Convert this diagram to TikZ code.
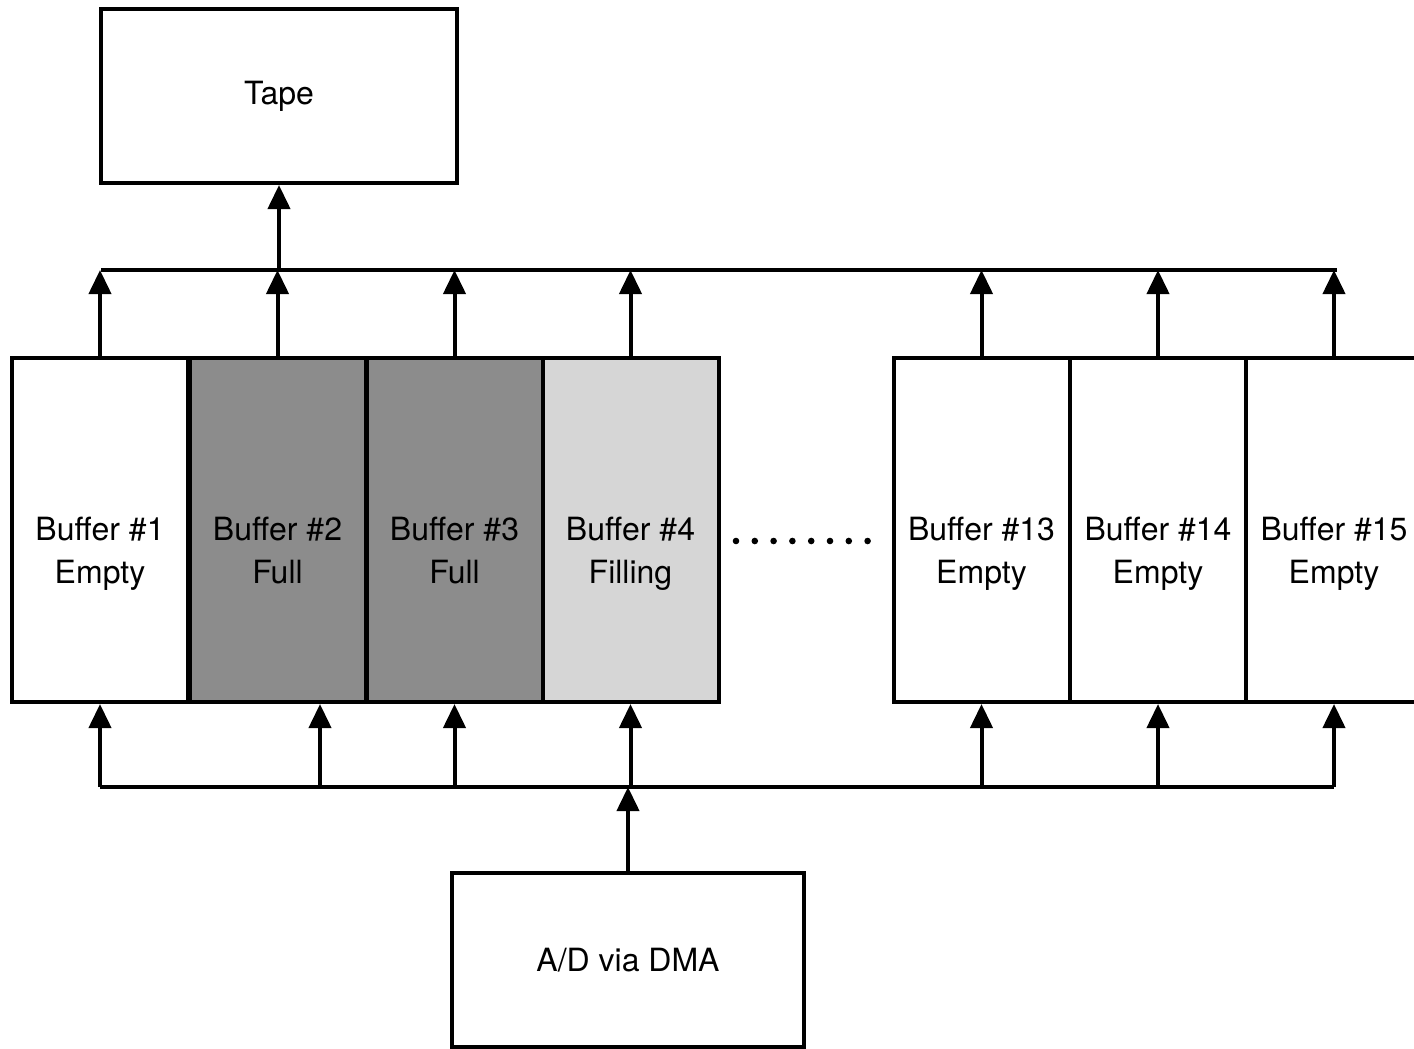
\documentclass[tikz,border=0pt]{standalone}
\usepackage{fontspec}
\setmainfont{TeX Gyre Heros}
\usetikzlibrary{arrows.meta}

\tikzset{
  box/.style={draw,line width=2pt,minimum width=178pt,minimum height=87pt,inner sep=0pt},
  buf/.style={draw,line width=2pt,minimum width=88pt,minimum height=172pt,inner sep=0pt},
  full/.style={buf,fill=black!45},
  filling/.style={buf,fill=black!16},
  lbl/.style={align=center,text height=12pt,text depth=4pt,font=\fontsize{16}{21.5}\selectfont},
  arr/.style={line width=2pt,-{Triangle[width=11pt,length=12pt]}},
  bus/.style={line width=2pt}
}

\begin{document}
\begin{tikzpicture}[x=0.5pt,y=-0.5pt]
\useasboundingbox (0,0) rectangle (1414,1049);

% boxes at the ends
\node[box,font=\fontsize{16}{21.5}\selectfont] (tape) at (279,96) {Tape};
\node[box,minimum width=176pt,font=\fontsize{16}{21.5}\selectfont] (ad) at (628,960) {A/D via DMA};

% buffers
\node[buf] (b1) at (100,530) {};
\node[full] (b2) at (277.5,530) {};
\node[full] (b3) at (454.5,530) {};
\node[filling] (b4) at (630.5,530) {};
\node[buf] (b13) at (981.5,530) {};
\node[buf] (b14) at (1158,530) {};
\node[buf] (b15) at (1334,530) {};

\node[lbl] (t1) at (100,575) {Buffer \#1\\Empty};
\node[lbl] (t2) at (277.5,575) {Buffer \#2\\Full};
\node[lbl] (t3) at (454.5,575) {Buffer \#3\\Full};
\node[lbl] (t4) at (630.5,575) {Buffer \#4\\Filling};
\node[lbl] (t13) at (981.5,575) {Buffer \#13\\Empty};
\node[lbl] (t14) at (1158,575) {Buffer \#14\\Empty};
\node[lbl] (t15) at (1334,575) {Buffer \#15\\Empty};

% dots between the two groups
\foreach \i in {0,...,7}
  \fill (736+\i*18.8,541) circle (3.3);

% top bus
\coordinate (tl) at (101,270);
\coordinate (tr) at (1337,270);
\draw[bus] (tl) -- (tr);
\draw[arr] (tape.south |- tl) -- (tape.south);
\draw[arr] (b1.north) -- (b1.north |- tl);
\draw[arr] (b2.north) -- (b2.north |- tl);
\draw[arr] (b3.north) -- (b3.north |- tl);
\draw[arr] (b4.north) -- (b4.north |- tl);
\draw[arr] (b13.north) -- (b13.north |- tl);
\draw[arr] (b14.north) -- (b14.north |- tl);
\draw[arr] (b15.north) -- (b15.north |- tl);

% bottom bus
\coordinate (bl) at (100,787);
\coordinate (br) at (1334,787);
\coordinate (b2in) at (320,787);
\draw[bus] (bl) -- (br);
\draw[arr] (ad.north) -- (ad.north |- bl);
\draw[arr] (bl) -- (bl |- b1.south);
\draw[arr] (b2in) -- (b2in |- b2.south);
\draw[arr] (b3.south |- bl) -- (b3.south);
\draw[arr] (b4.south |- bl) -- (b4.south);
\draw[arr] (b13.south |- bl) -- (b13.south);
\draw[arr] (b14.south |- bl) -- (b14.south);
\draw[arr] (br) -- (br |- b15.south);
\end{tikzpicture}
\end{document}
